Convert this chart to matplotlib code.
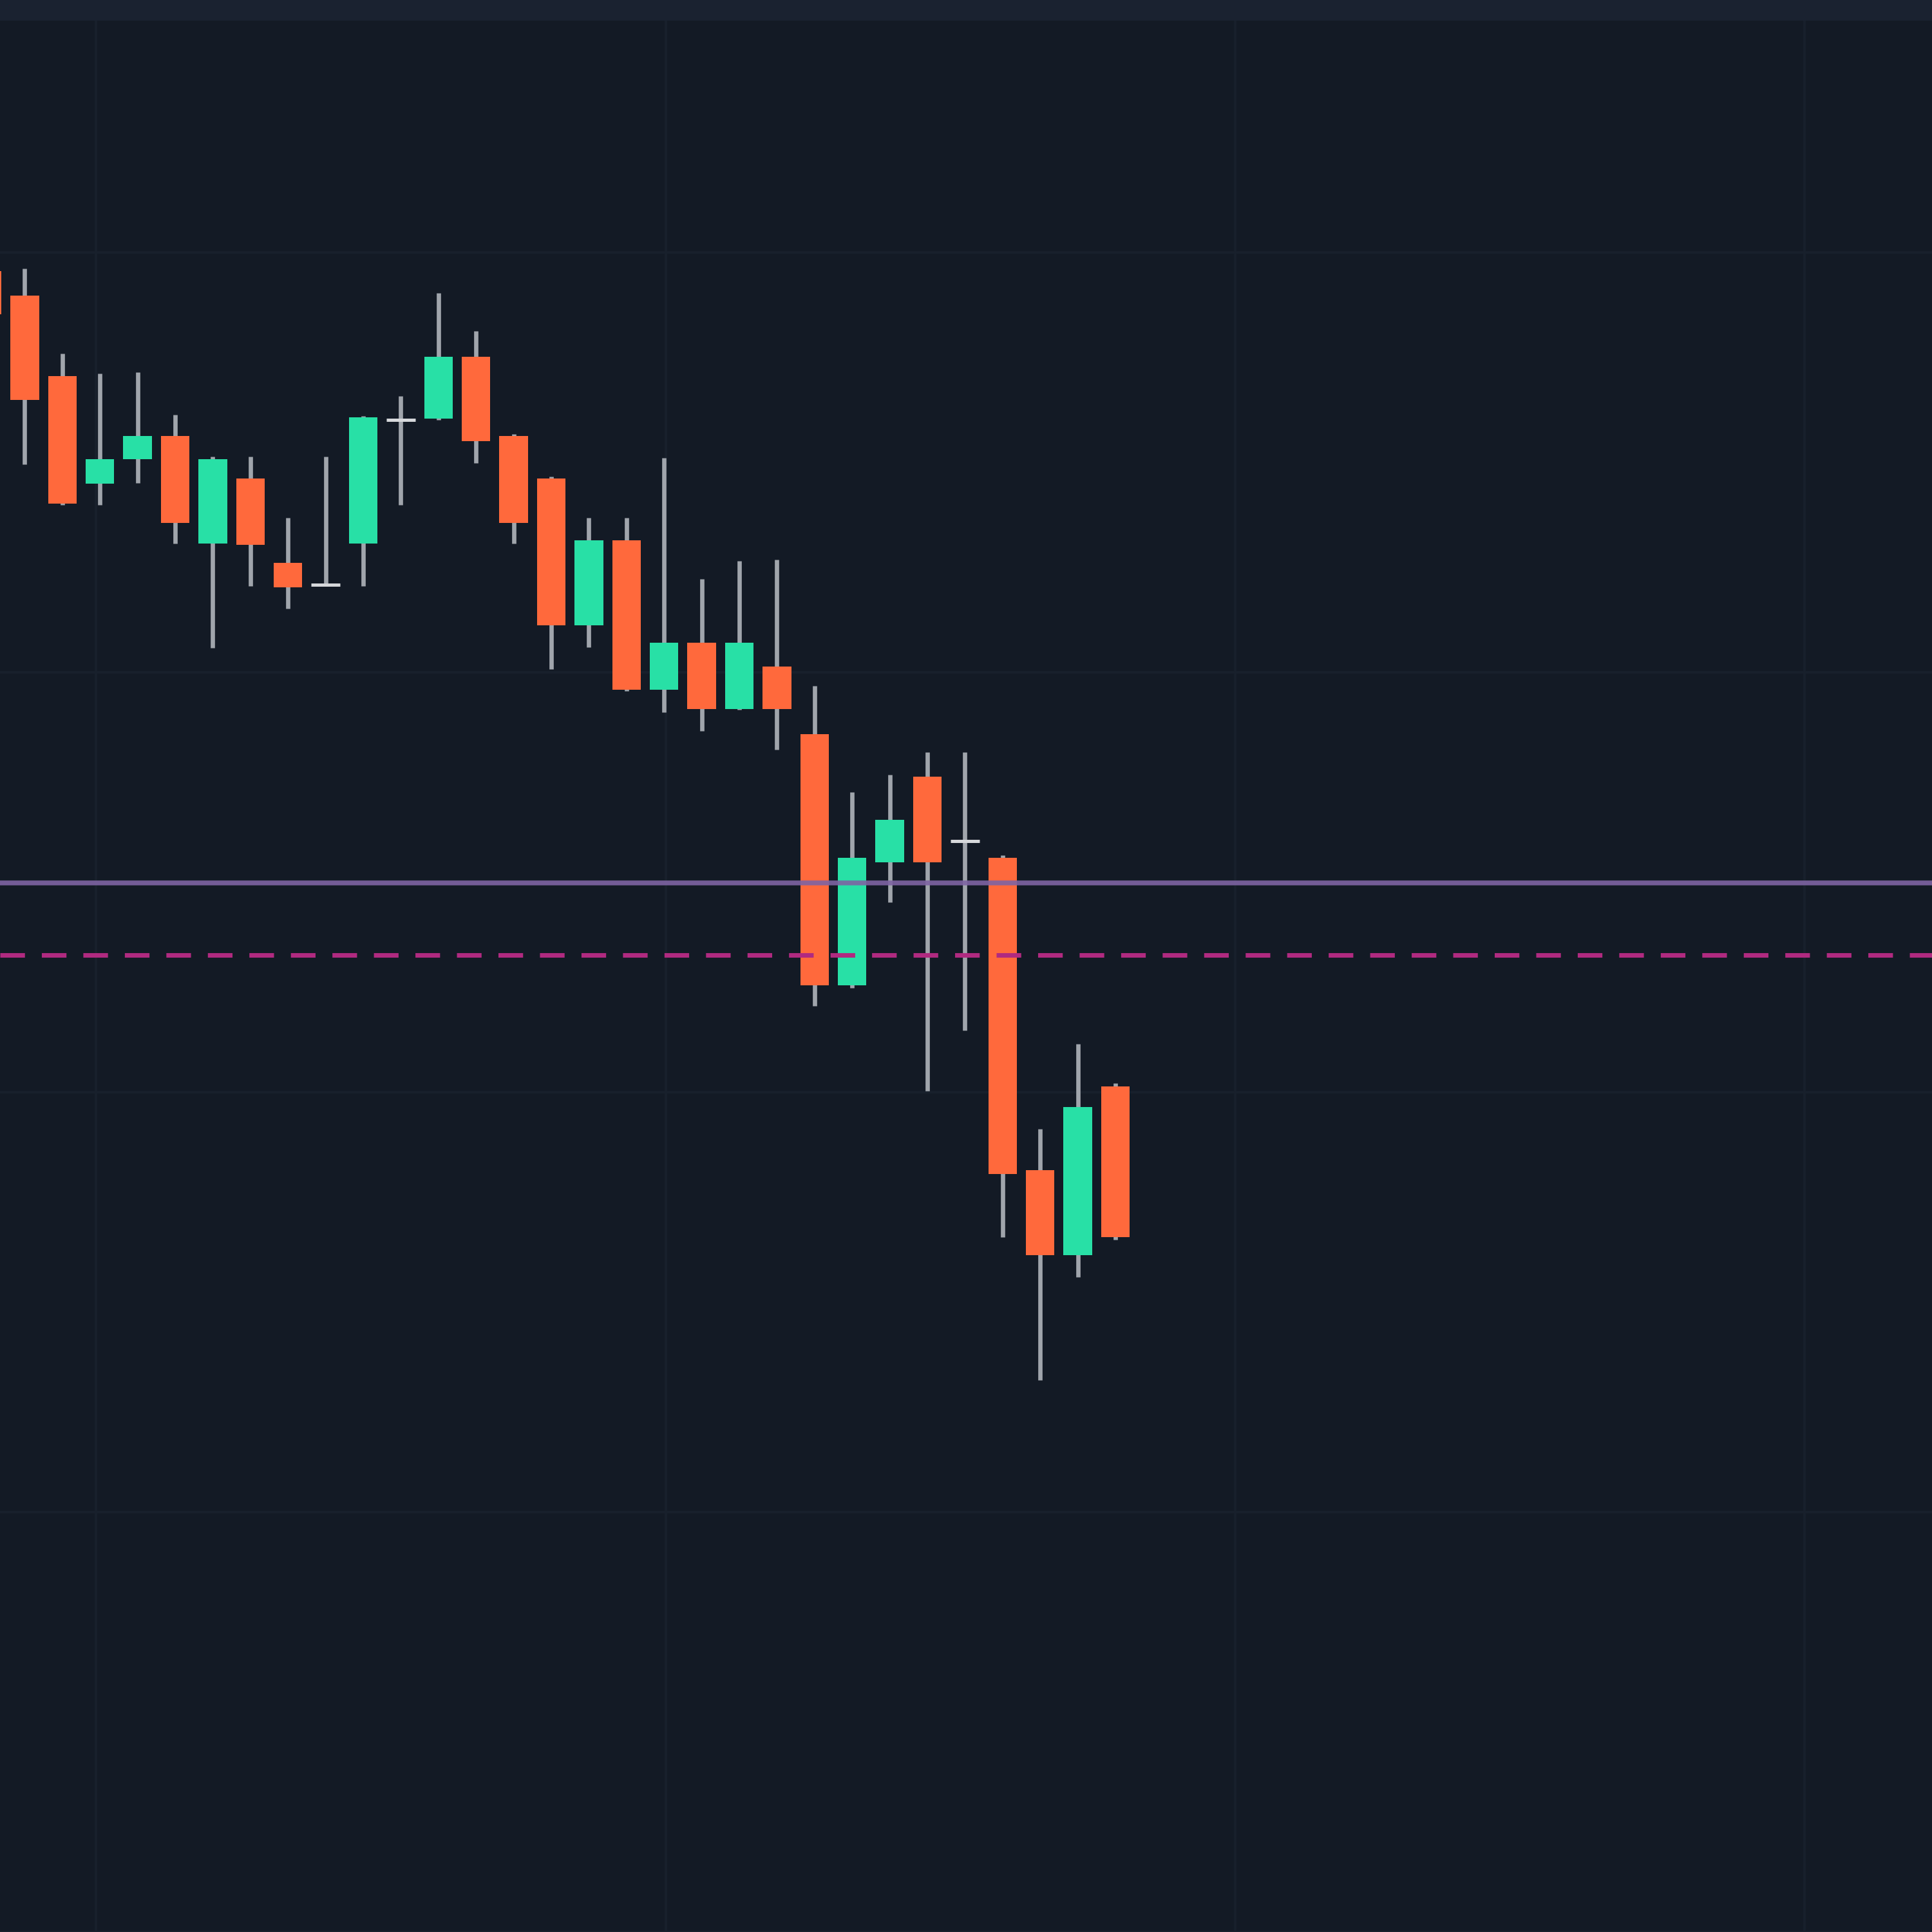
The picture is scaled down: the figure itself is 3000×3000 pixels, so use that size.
import matplotlib
matplotlib.use("Agg")
import matplotlib.pyplot as plt
import numpy as np

# candle data (index -1 is the one cut by the left edge)
idx = list(range(-1, 30))
opens = [139.56, 138.97, 137.05, 134.50, 135.07, 135.63, 133.06, 134.61, 132.61, 132.09, 133.06,
         136.01, 136.04, 137.52, 135.63, 134.61, 131.12, 133.15, 129.58, 130.70, 129.13, 130.14,
         128.52, 122.54, 125.48, 127.51, 125.98, 125.58, 118.15, 116.12, 120.13]
highs = [139.70, 139.62, 137.59, 137.12, 137.15, 136.14, 135.13, 135.13, 133.68, 135.13, 136.11,
         136.58, 139.04, 138.13, 135.67, 134.66, 133.68, 133.68, 135.11, 132.23, 132.65, 132.68,
         129.67, 127.14, 127.56, 128.10, 128.10, 125.64, 119.12, 121.15, 120.22]
lows = [138.32, 134.95, 133.98, 133.98, 134.51, 133.07, 130.58, 132.06, 131.52, 132.06, 132.06,
        133.98, 136.01, 134.99, 133.07, 130.07, 130.59, 129.56, 129.05, 128.61, 129.11, 128.16,
        122.06, 122.48, 124.52, 120.03, 121.47, 116.55, 113.15, 115.59, 116.49]
closes = [138.53, 136.48, 134.02, 135.07, 135.63, 133.56, 135.08, 133.04, 132.03, 132.09, 136.07,
          136.01, 137.52, 135.50, 133.56, 131.12, 133.15, 129.58, 130.70, 129.13, 130.70, 129.13,
          122.54, 125.58, 126.49, 125.48, 125.98, 118.05, 116.12, 119.65, 116.55]

level_solid = 124.99
level_dashed = 123.26

bg = "#131a25"
band = "#1a2230"
grid_col = "#18202c"
up_col = "#28e0a6"
down_col = "#ff693c"
wick_col = "#a0a5ac"
doji_col = "#d6d8db"

fig = plt.figure(figsize=(10, 10), dpi=300)
fig.patch.set_facecolor(band)
ax = fig.add_axes([0, 0, 1, 1 - 32 / 3000])
ax.set_facecolor(bg)

x = np.array(idx, dtype=float)
o = np.array(opens)
h = np.array(highs)
l = np.array(lows)
c = np.array(closes)

# wicks
ax.vlines(x, l, h, colors=wick_col, linewidth=1.6, zorder=2)

w = 0.76
doji = o == c
up = (c > o) & ~doji
down = (c < o) & ~doji
ax.bar(x[up], c[up] - o[up], bottom=o[up], width=w, color=up_col, zorder=3)
ax.bar(x[down], o[down] - c[down], bottom=c[down], width=w, color=down_col, zorder=3)
ax.hlines(o[doji], x[doji] - w / 2, x[doji] + w / 2, colors=doji_col, linewidth=1.2, zorder=3)

# levels
ax.axhline(level_solid, color="#7e64a3", linewidth=1.8, alpha=0.9, zorder=4)
ax.axhline(level_dashed, color="#b02a80", linewidth=1.7, linestyle=(0, (5.4, 3.7)), zorder=4)

ax.set_xlim(-0.656, 50.71)
ax.set_ylim(100, 145.52)
ax.set_xticks([1.9, 17.04, 32.18, 47.32])
ax.set_yticks([100, 110, 120, 130, 140])
ax.grid(True, color=grid_col, linewidth=0.9, zorder=0)
ax.set_axisbelow(True)
ax.tick_params(length=0, labelbottom=False, labelleft=False)
for s in ax.spines.values():
    s.set_visible(False)

fig.savefig("out.png", dpi=300, facecolor=fig.get_facecolor())
